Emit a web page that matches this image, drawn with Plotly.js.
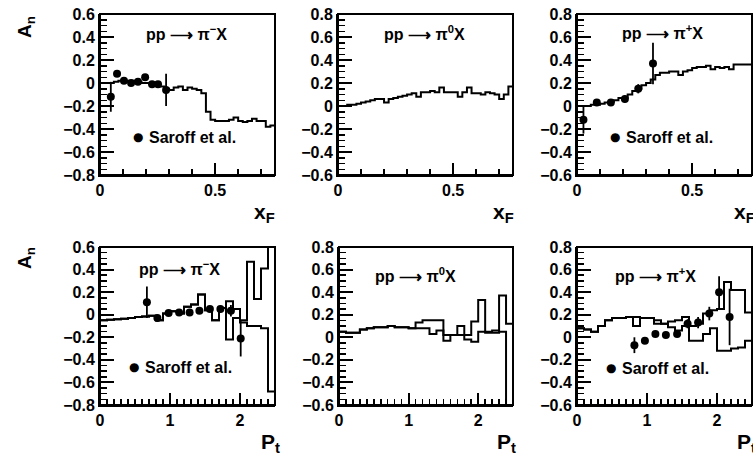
<!DOCTYPE html>
<html>
<head>
<meta charset="utf-8">
<script src="https://cdn.plot.ly/plotly-3.0.1.min.js"></script>
<style>html,body{margin:0;padding:0;background:#fff;}#chart{width:753px;height:455px;}</style>
</head>
<body>
<div id="chart"></div>
<script>
// ---------- DATA ----------
const xfEdgesB = [0.02,0.04,0.06,0.08,0.10,0.12,0.14,0.16,0.18,0.20,0.22,0.24,0.26,0.28,0.30,0.32,0.34,0.36,0.38,0.40,0.42,0.44,0.46,0.48,0.50,0.52,0.54,0.56,0.58,0.60,0.62,0.64,0.66,0.68,0.70,0.72,0.74,0.76];
const xfEdgesA = [0.04,0.06,0.08,0.10,0.12,0.14,0.16,0.18,0.20,0.22,0.24,0.26,0.28,0.30,0.32,0.34,0.36,0.38,0.40,0.42,0.44,0.46,0.48,0.50,0.52,0.54,0.56,0.58,0.60,0.62,0.64,0.66,0.68,0.70,0.72,0.74,0.76];
const ptEdges = [0,0.1,0.2,0.3,0.4,0.5,0.6,0.7,0.8,0.9,1.0,1.1,1.2,1.3,1.4,1.5,1.6,1.7,1.8,1.9,2.0,2.1,2.2,2.3,2.4,2.5];

const anXfPiMinus = [0.00,0.01,0.02,0.02,0.01,0.02,0.01,0.00,0.00,-0.01,-0.02,-0.03,-0.05,-0.06,-0.04,-0.03,-0.06,-0.04,-0.05,-0.06,-0.09,-0.25,-0.32,-0.33,-0.33,-0.33,-0.32,-0.30,-0.33,-0.34,-0.33,-0.31,-0.33,-0.33,-0.38,-0.37];
const anXfPiZero  = [0.00,0.01,0.01,0.02,0.03,0.04,0.05,0.06,0.06,0.03,0.06,0.07,0.08,0.09,0.10,0.11,0.08,0.12,0.12,0.13,0.12,0.16,0.12,0.12,0.12,0.08,0.12,0.16,0.11,0.11,0.10,0.12,0.11,0.10,0.06,0.10,0.17];
const anXfPiPlus  = [0.00,0.00,0.01,0.01,0.02,0.03,0.04,0.05,0.07,0.07,0.10,0.13,0.15,0.18,0.20,0.23,0.27,0.29,0.29,0.30,0.30,0.27,0.30,0.31,0.33,0.34,0.34,0.35,0.32,0.34,0.33,0.34,0.32,0.36,0.36,0.36,0.36];

const anPtPiMinusHi = [-0.05,-0.045,-0.04,-0.035,-0.03,-0.02,-0.015,-0.01,-0.05,0.01,0.03,0.01,0.07,0.09,0.18,0.04,-0.05,0.06,0.12,0.05,-0.05,0.47,0.14,0.41,0.70];
const anPtPiMinusLo = [-0.05,-0.045,-0.04,-0.035,-0.03,-0.02,-0.015,-0.01,-0.05,0.01,0.03,0.01,0.07,0.09,0.18,0.04,-0.05,0.06,-0.22,-0.03,-0.07,-0.10,-0.10,-0.12,-0.68];
const anPtPiZeroHi  = [0.05,0.04,0.04,0.07,0.08,0.09,0.09,0.10,0.09,0.09,0.08,0.13,0.15,0.15,0.15,0.02,0.02,0.10,0.02,0.14,0.33,0.05,0.06,0.37,0.12];
const anPtPiZeroLo  = [0.05,0.04,0.04,0.07,0.08,0.09,0.09,0.10,0.09,0.09,0.08,0.08,0.08,0.03,0.06,-0.03,0.02,0.02,-0.02,-0.04,0.05,0.04,0.04,0.05,-0.62];
const anPtPiPlusHi  = [0.08,0.07,0.05,0.10,0.15,0.17,0.17,0.18,0.18,0.17,0.17,0.15,0.12,0.14,0.15,0.18,0.10,0.12,0.21,0.24,0.25,0.49,0.42,0.42,0.22];
const anPtPiPlusLo  = [0.08,0.07,0.05,0.10,0.15,0.17,0.17,0.18,0.10,0.17,0.17,0.12,0.12,0.09,0.06,0.10,-0.03,-0.03,0.03,0.08,-0.12,-0.12,-0.10,-0.09,-0.03];

const saroffXfMinusX = [0.047,0.074,0.104,0.135,0.165,0.196,0.226,0.252,0.287];
const saroffXfMinusY = [-0.12,0.08,0.02,0.00,0.01,0.05,-0.01,-0.01,-0.06];
const saroffXfMinusE = [0.13,0.02,0.02,0.02,0.02,0.02,0.02,0.02,0.14];
const saroffXfPlusX  = [0.028,0.086,0.147,0.208,0.266,0.33];
const saroffXfPlusY  = [-0.12,0.03,0.03,0.06,0.15,0.37];
const saroffXfPlusE  = [0.12,0.02,0.02,0.03,0.04,0.18];
const saroffPtMinusX = [0.67,0.82,0.98,1.13,1.28,1.42,1.57,1.72,1.87,2.01];
const saroffPtMinusY = [0.11,-0.03,0.015,0.02,0.02,0.035,0.05,0.05,0.035,-0.21];
const saroffPtMinusE = [0.14,0.03,0.02,0.02,0.02,0.02,0.02,0.03,0.05,0.16];
const saroffPtPlusX  = [0.82,0.97,1.12,1.27,1.43,1.58,1.73,1.89,2.03,2.18];
const saroffPtPlusY  = [-0.07,-0.03,0.03,0.02,0.03,0.12,0.13,0.21,0.40,0.18];
const saroffPtPlusE  = [0.07,0.02,0.02,0.02,0.02,0.04,0.05,0.06,0.14,0.25];

const reactions = ["pp ⟶ π<sup>−</sup>X","pp ⟶ π<sup>0</sup>X","pp ⟶ π<sup>+</sup>X"];
const legendText = "Saroff et al.";

// ---------- BUILD ----------
const W = 753, H = 455;
const px = v => v / W, py = v => 1 - v / H;
const FONT = "Liberation Sans, Arial, sans-serif";

function step(edges, vals, ax, ay) {
  return {type: 'scatter', x: edges, y: vals.concat([vals[vals.length - 1]]), mode: 'lines',
    line: {shape: 'hv', color: '#000', width: 2}, xaxis: ax, yaxis: ay,
    hoverinfo: 'skip', showlegend: false};
}
function pts(x, y, e, ax, ay) {
  return {type: 'scatter', x: x, y: y, mode: 'markers', marker: {color: '#000', size: 8},
    error_y: {type: 'data', array: e, visible: true, width: 0, thickness: 1.8, color: '#000'},
    xaxis: ax, yaxis: ay, hoverinfo: 'skip', showlegend: false};
}

const traces = [
  step(xfEdgesA, anXfPiMinus, 'x', 'y'),
  pts(saroffXfMinusX, saroffXfMinusY, saroffXfMinusE, 'x', 'y'),
  step(xfEdgesB, anXfPiZero, 'x2', 'y2'),
  step(xfEdgesB, anXfPiPlus, 'x3', 'y3'),
  pts(saroffXfPlusX, saroffXfPlusY, saroffXfPlusE, 'x3', 'y3'),
  step(ptEdges, anPtPiMinusHi, 'x4', 'y4'),
  step(ptEdges, anPtPiMinusLo, 'x4', 'y4'),
  pts(saroffPtMinusX, saroffPtMinusY, saroffPtMinusE, 'x4', 'y4'),
  step(ptEdges, anPtPiZeroHi, 'x5', 'y5'),
  step(ptEdges, anPtPiZeroLo, 'x5', 'y5'),
  step(ptEdges, anPtPiPlusHi, 'x6', 'y6'),
  step(ptEdges, anPtPiPlusLo, 'x6', 'y6'),
  pts(saroffPtPlusX, saroffPtPlusY, saroffPtPlusE, 'x6', 'y6')
];

const TF = {family: FONT, size: 16, color: '#000', weight: 'bold'};
function xax(d0, d1, range, dtick, minor, anchor) {
  return {domain: [px(d0), px(d1)], range: range, anchor: anchor,
    showline: true, linewidth: 2, linecolor: '#000',
    tickmode: 'linear', tick0: 0, dtick: dtick,
    ticks: 'inside', ticklen: 12, tickwidth: 2, tickcolor: '#000',
    minor: {dtick: minor, ticks: 'inside', ticklen: 6, tickwidth: 1.5, tickcolor: '#000'},
    showgrid: false, zeroline: false, tickfont: TF, fixedrange: true};
}
function yax(d0, d1, range, anchor) {
  return {domain: [py(d1), py(d0)], range: range, anchor: anchor,
    showline: true, linewidth: 2, linecolor: '#000',
    tickmode: 'linear', tick0: 0, dtick: 0.2,
    ticks: 'inside', ticklen: 14, tickwidth: 2, tickcolor: '#000',
    minor: {dtick: 0.05, ticks: 'inside', ticklen: 7, tickwidth: 1.5, tickcolor: '#000'},
    showgrid: false, zeroline: false, tickfont: TF, fixedrange: true};
}

const topY = [14, 175], botY = [247, 405];
const layout = {
  width: W, height: H, margin: {l: 0, r: 0, t: 0, b: 0},
  paper_bgcolor: '#fff', plot_bgcolor: '#fff', showlegend: false, hovermode: false,
  xaxis:  xax(100, 275, [0, 0.76], 0.5, 0.1, 'y'),
  yaxis:  yax(topY[0], topY[1], [-0.8, 0.6], 'x'),
  xaxis2: xax(338, 513, [0, 0.76], 0.5, 0.1, 'y2'),
  yaxis2: yax(topY[0], topY[1], [-0.6, 0.8], 'x2'),
  xaxis3: xax(577, 752, [0, 0.76], 0.5, 0.1, 'y3'),
  yaxis3: yax(topY[0], topY[1], [-0.6, 0.8], 'x3'),
  xaxis4: xax(100, 275, [0, 2.5], 1, 0.1, 'y4'),
  yaxis4: yax(botY[0], botY[1], [-0.8, 0.6], 'x4'),
  xaxis5: xax(339, 513, [0, 2.5], 1, 0.1, 'y5'),
  yaxis5: yax(botY[0], botY[1], [-0.6, 0.8], 'x5'),
  xaxis6: xax(577, 752, [0, 2.5], 1, 0.1, 'y6'),
  yaxis6: yax(botY[0], botY[1], [-0.6, 0.8], 'x6'),
  annotations: [],
  shapes: []
};

// frame (top / right edges) of each panel, in the subplot's own domain coordinates
['', '2', '3', '4', '5', '6'].forEach(s => {
  layout.shapes.push({type: 'rect', xref: 'x' + s + ' domain', yref: 'y' + s + ' domain',
    x0: 0, x1: 1, y0: 0, y1: 1, line: {color: '#000', width: 2}, fillcolor: 'rgba(0,0,0,0)', layer: 'above'});
});

function ann(text, x, y, size, opts) {
  return Object.assign({text: text, x: px(x), y: py(y), xref: 'paper', yref: 'paper',
    showarrow: false, font: {family: FONT, size: size, color: '#000', weight: 'bold'},
    xanchor: 'center', yanchor: 'middle'}, opts || {});
}
const A = layout.annotations;
A.push(ann(reactions[0], 186, 33, 16));
A.push(ann(reactions[1], 424, 33, 16));
A.push(ann(reactions[2], 662, 32, 16));
A.push(ann(reactions[0], 179, 268, 16));
A.push(ann(reactions[1], 416, 275, 16));
A.push(ann(reactions[2], 655, 275, 16));
[[138, 137], [615, 137], [134, 367], [611, 368]].forEach(p => {
  A.push(ann("●", p[0], p[1], 12, {font: {family: "DejaVu Sans", size: 12, color: '#000'}}));
  A.push(ann(legendText, p[0] + 9, p[1], 16, {xanchor: 'left'}));
});
A.push(ann("A<sub>n</sub>", 26, 27, 19, {textangle: -90}));
A.push(ann("A<sub>n</sub>", 26, 258, 19, {textangle: -90}));
A.push(ann("x<sub>F</sub>", 264, 213, 21));
A.push(ann("x<sub>F</sub>", 504, 213, 21));
A.push(ann("x<sub>F</sub>", 744, 213, 21));
A.push(ann("P<sub>t</sub>", 270, 443, 21));
A.push(ann("P<sub>t</sub>", 507, 443, 21));
A.push(ann("P<sub>t</sub>", 746, 443, 21));

Plotly.newPlot('chart', traces, layout, {staticPlot: true, displayModeBar: false});
</script>
</body>
</html>
